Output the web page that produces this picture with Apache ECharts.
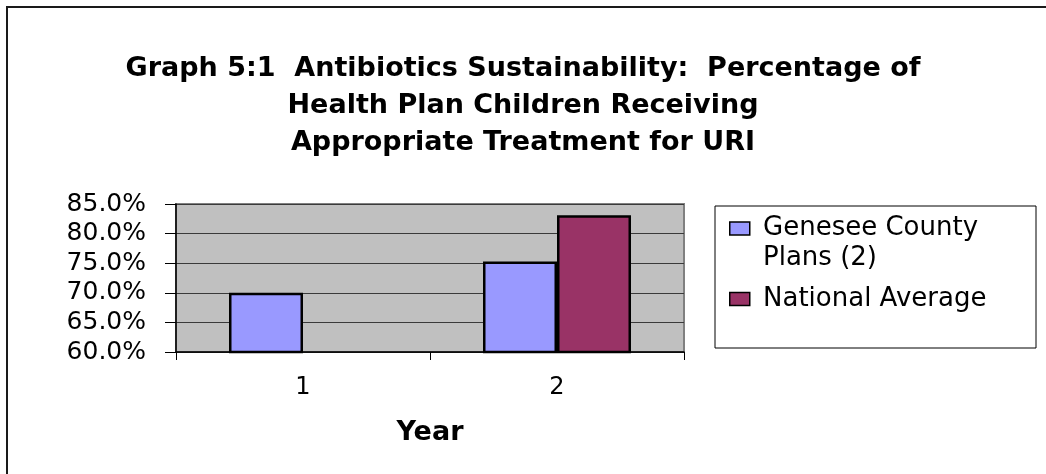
<!DOCTYPE html>
<html>
<head>
<meta charset="utf-8">
<script src="https://cdn.jsdelivr.net/npm/echarts@6/dist/echarts.min.js"></script>
<style>
html,body{margin:0;padding:0;background:#fff;}
#chart{width:1046px;height:474px;}
</style>
</head>
<body>
<div id="chart"></div>
<script>
const titleLines = ["Graph 5:1  Antibiotics Sustainability:  Percentage of", "Health Plan Children Receiving", "Appropriate Treatment for URI"];
const categories = ["1", "2"];
const seriesNames = ["Genesee County\nPlans (2)", "National Average"];
const geneseeValues = [70.0, 75.3];
const nationalValues = [null, 83.1];
const yTicks = { min: 60, max: 85, interval: 5 };
const xAxisName = "Year";

const chart = echarts.init(document.getElementById('chart'), null, { renderer: 'canvas' });
const font = 'DejaVu Sans';

chart.setOption({
  animation: false,
  backgroundColor: '#ffffff',
  title: {
    text: titleLines.join('\n'),
    left: 'center',
    top: 45,
    textStyle: { fontFamily: font, fontWeight: 'bold', fontSize: 27, lineHeight: 37, color: '#000' }
  },
  graphic: [
    { type: 'rect', shape: { x: 7, y: 7, width: 1200, height: 600 }, style: { fill: 'none', stroke: '#1a1a1a', lineWidth: 2 }, silent: true, z: 100 },
    { type: 'rect', shape: { x: 715, y: 206, width: 321, height: 142 }, style: { fill: 'none', stroke: '#000', lineWidth: 1 }, silent: true }
  ],
  legend: {
    orient: 'vertical',
    left: 729,
    top: 183.5,
    padding: 0,
    itemGap: 10.5,
    itemWidth: 20,
    itemHeight: 13,
    icon: 'rect',
    itemStyle: { borderColor: '#000', borderWidth: 1.5 },
    textStyle: { fontFamily: font, fontSize: 26, color: '#000', lineHeight: 30 },
    formatter: name => (name === seriesNames[0] ? ' \n' : '') + name.split('\n').map(s => ' ' + s).join('\n'),
    data: seriesNames
  },
  grid: {
    left: 176, right: 362, top: 204, bottom: 122,
    show: true, backgroundColor: '#C0C0C0', borderColor: '#808080', borderWidth: 2
  },
  xAxis: {
    type: 'category',
    data: categories,
    name: xAxisName,
    nameLocation: 'middle',
    nameGap: 67,
    nameTextStyle: { fontFamily: font, fontWeight: 'bold', fontSize: 27, color: '#000' },
    axisLine: { lineStyle: { color: '#000', width: 1.5 } },
    axisTick: { show: true, length: 8, lineStyle: { color: '#000', width: 1 } },
    axisLabel: { fontFamily: font, fontSize: 24, color: '#000', margin: 24 },
    splitLine: { show: false }
  },
  yAxis: {
    type: 'value',
    min: yTicks.min, max: yTicks.max, interval: yTicks.interval,
    axisLine: { show: true, lineStyle: { color: '#000', width: 1.5 } },
    axisTick: { show: true, length: 11, lineStyle: { color: '#000', width: 1 } },
    axisLabel: { fontFamily: font, fontSize: 25, color: '#000', margin: 30, formatter: v => v.toFixed(1) + '%' },
    splitLine: { show: true, lineStyle: { color: '#3a3a3a', width: 1 } }
  },
  series: [
    { name: seriesNames[0], type: 'bar', data: geneseeValues, barWidth: 74, barGap: '0%',
      itemStyle: { color: '#9999FF', borderColor: '#000', borderWidth: 2.5 } },
    { name: seriesNames[1], type: 'bar', data: nationalValues, barWidth: 74, barGap: '0%',
      itemStyle: { color: '#993366', borderColor: '#000', borderWidth: 2.5 } }
  ]
});
</script>
</body>
</html>
